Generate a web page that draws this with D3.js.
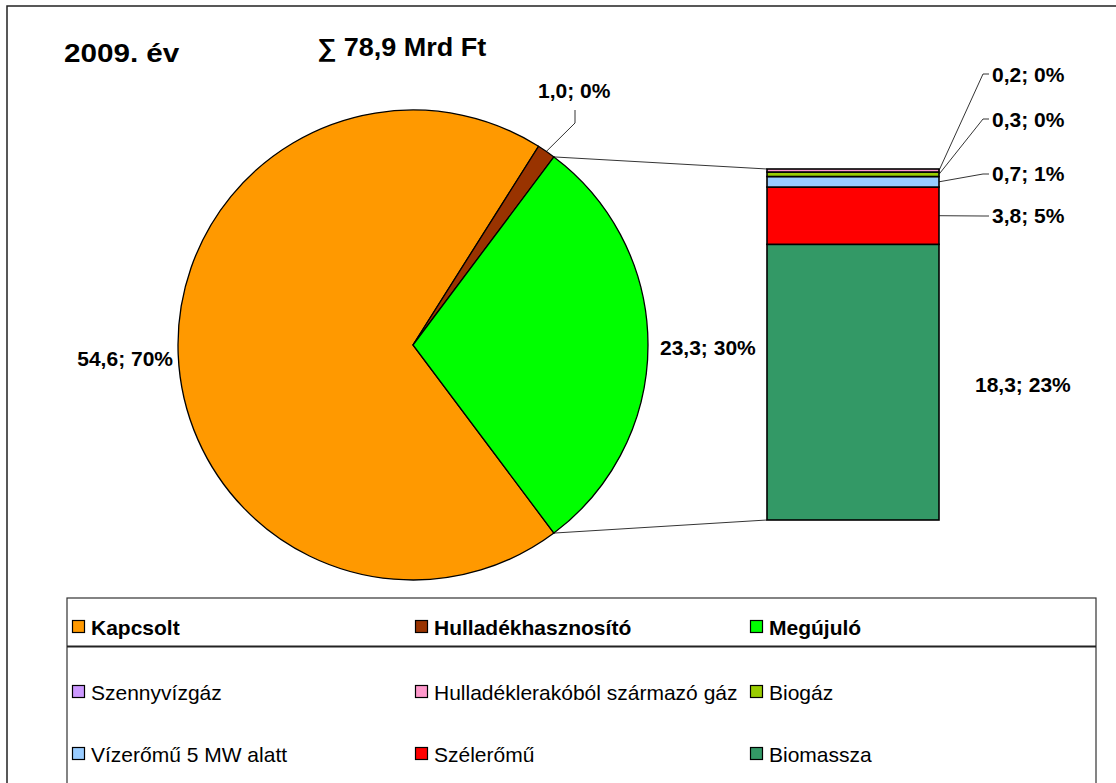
<!DOCTYPE html>
<html><head><meta charset="utf-8">
<script src="https://cdn.jsdelivr.net/npm/d3@7"></script>
<style>body{margin:0;background:#fff}svg{display:block;font-family:"Liberation Sans",Arial,sans-serif}</style>
</head><body>
<script>
// ---- data ----
const mainCategories = ["Kapcsolt", "Hulladékhasznosító", "Megújuló"];
const mainValues = [54.6, 1.0, 23.3];
const mainPctLabels = ["70%", "0%", "30%"];
const mainColors = ["#FF9900", "#993300", "#00FF00"];

const subCategories = ["Szennyvízgáz", "Hulladéklerakóból származó gáz", "Biogáz", "Vízerőmű 5 MW alatt", "Szélerőmű", "Biomassza"];
const subValues = [0.0, 0.2, 0.3, 0.7, 3.8, 18.3];
const subPctLabels = ["", "0%", "0%", "1%", "5%", "23%"];
const subColors = ["#CC99FF", "#FF99CC", "#99CC00", "#99CCFF", "#FF0000", "#339966"];

const titleText = "2009. év";
const totalText = "∑ 78,9 Mrd Ft";

const fmt = v => d3.format(".1f")(v).replace(".", ",");

const W = 1116, H = 783;
const svg = d3.select("body").append("svg").attr("width", W).attr("height", H);

// outer frame
svg.append("rect").attr("x", 7).attr("y", 6).attr("width", 1120).attr("height", 800)
  .attr("fill", "#fff").attr("stroke", "#222").attr("stroke-width", 1.5);

svg.append("text").attr("transform", "translate(64,62) scale(1.14,1)").attr("font-size", 26).attr("font-weight", "bold").text(titleText);
svg.append("text").attr("transform", "translate(317,56) scale(1.08,1)").attr("font-size", 25).attr("font-weight", "bold").text(totalText);

// ---- pie ----
const cx = 413, cy = 345, R = 235;
const total = d3.sum(mainValues);
const renewIdx = 2;
const renewHalf = mainValues[renewIdx] / total * Math.PI;
const start = Math.PI / 2 + renewHalf; // Kapcsolt starts after the Megújuló slice ends
const pie = d3.pie().sort(null).value(d => d).startAngle(start).endAngle(start + 2 * Math.PI);
const arcs = pie(mainValues);
const arc = d3.arc().innerRadius(0).outerRadius(R);
const g = svg.append("g").attr("transform", `translate(${cx},${cy})`);
g.selectAll("path").data(arcs).join("path").attr("d", arc)
  .attr("fill", (d, i) => mainColors[i]).attr("stroke", "#000").attr("stroke-width", 1.3);

const polar = (a, r) => [cx + r * Math.sin(a), cy - r * Math.cos(a)];

// ---- bar (secondary) ----
const barX = 767, barW = 172, barTop = 169, barBottom = 520;
const subTotal = d3.sum(subValues);
const y = d3.scaleLinear().domain([0, subTotal]).range([barBottom, barTop]);
const stackOrder = d3.range(subValues.length).reverse();
let acc = 0;
const segs = stackOrder.map(i => { const s = {i, y0: acc, y1: acc + subValues[i]}; acc += subValues[i]; return s; });
svg.append("g").selectAll("rect").data(segs.filter(s => s.y1 > s.y0)).join("rect")
  .attr("x", barX).attr("width", barW)
  .attr("y", d => y(d.y1)).attr("height", d => y(d.y0) - y(d.y1))
  .attr("fill", d => subColors[d.i]).attr("stroke", "#000").attr("stroke-width", 1.6);

// connector lines
const rA = arcs[renewIdx];
const pTop = polar(rA.startAngle, R), pBot = polar(rA.endAngle, R);
svg.append("line").attr("x1", pTop[0]).attr("y1", pTop[1]).attr("x2", barX).attr("y2", y(subTotal)).attr("stroke", "#000").attr("stroke-width", 0.8);
svg.append("line").attr("x1", pBot[0]).attr("y1", pBot[1]).attr("x2", barX).attr("y2", y(0)).attr("stroke", "#000").attr("stroke-width", 0.8);

// ---- labels ----
const lblSize = 21;
function label(x, yy, txt, anchor) {
  svg.append("text").attr("x", x).attr("y", yy).attr("font-size", lblSize).attr("font-weight", "bold")
    .attr("text-anchor", anchor || "start").text(txt);
}
label(173, 366, fmt(mainValues[0]) + "; " + mainPctLabels[0], "end");
label(660, 355, fmt(mainValues[2]) + "; " + mainPctLabels[2], "start");
label(538, 98, fmt(mainValues[1]) + "; " + mainPctLabels[1], "start");
// leader for Hulladékhasznosító
{
  const a = (arcs[1].startAngle + arcs[1].endAngle) / 2;
  const p = polar(a, R);
  svg.append("path").attr("d", `M575,110 L575,123 L${p[0]},${p[1]}`).attr("fill", "none").attr("stroke", "#000").attr("stroke-width", 0.8);
}
// bar labels
const midOf = i => { const s = segs.find(s => s.i === i); return y((s.y0 + s.y1) / 2); };
label(975, 392, fmt(subValues[5]) + "; " + subPctLabels[5], "start");
const rightLabels = [
  {i: 1, ty: 74, by: 82},
  {i: 2, ty: 119, by: 127},
  {i: 3, ty: 174, by: 181},
  {i: 4, ty: 216, by: 223}
];
rightLabels.forEach(r => {
  label(992, r.by, fmt(subValues[r.i]) + "; " + subPctLabels[r.i], "start");
  const my = midOf(r.i);
  svg.append("path").attr("d", `M${barX + barW},${my} L983,${r.ty} L989,${r.ty}`)
    .attr("fill", "none").attr("stroke", "#000").attr("stroke-width", 0.8);
});

// ---- legend ----
const lg = svg.append("g");
lg.append("rect").attr("x", 67).attr("y", 598).attr("width", 1029).attr("height", 200)
  .attr("fill", "#fff").attr("stroke", "#333").attr("stroke-width", 1.2);
lg.append("line").attr("x1", 67).attr("x2", 1096).attr("y1", 646.5).attr("y2", 646.5).attr("stroke", "#222").attr("stroke-width", 2);
const colX = [72, 415, 750];
const rowsY = [635, 700, 762];
const items = [];
mainCategories.forEach((c, i) => items.push({name: c, color: mainColors[i], bold: true, col: i, row: 0}));
subCategories.forEach((c, i) => items.push({name: c, color: subColors[i], bold: false, col: i % 3, row: 1 + Math.floor(i / 3)}));
const li = lg.selectAll("g.item").data(items).join("g").attr("class", "item")
  .attr("transform", d => `translate(${colX[d.col]},${rowsY[d.row]})`);
li.append("rect").attr("x", 0.5).attr("y", -14.5).attr("width", 12).attr("height", 12)
  .attr("fill", d => d.color).attr("stroke", "#000").attr("stroke-width", 1.2);
li.append("text").attr("x", 19).attr("y", 0).attr("font-size", 21)
  .attr("font-weight", d => d.bold ? "bold" : "normal").text(d => d.name);
</script>
</body></html>
